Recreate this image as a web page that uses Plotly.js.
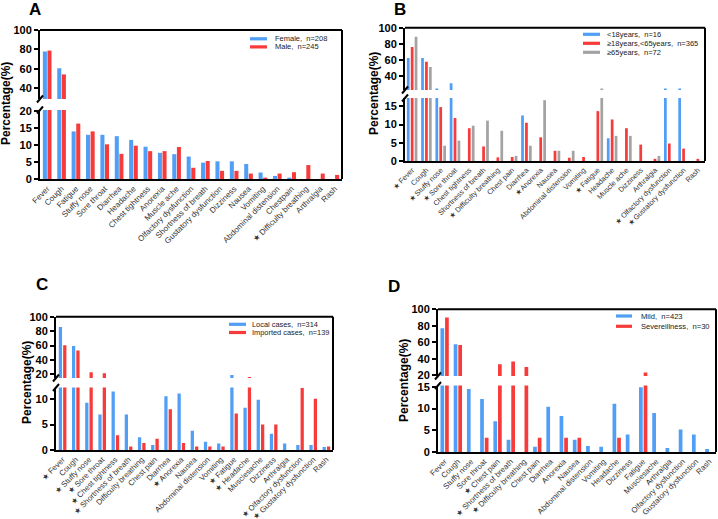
<!DOCTYPE html>
<html><head><meta charset="utf-8">
<script src="https://cdn.plot.ly/plotly-3.0.1.min.js"></script>
<style>html,body{margin:0;padding:0;background:#fff;}#chart{width:718px;height:519px;}</style>
</head><body><div id="chart"></div>
<script>
// ---------- DATA ----------
const catsA = ["Fever","Cough","Fatigue","Stuffy nose","Sore throat","Diarrhea","Headache","Chest tightness","Anorexia","Muscle ache","Olfactory dysfunction","Shortness of breath","Gustatory dysfunction","Dizziness","Nausea","Vomiting","Abdominal distension","Chestpain","★ Difficulty breathing","Arthralgia","Rash"];
const femaleA = [77.9, 60.6, 14.0, 13.0, 13.0, 12.6, 11.5, 9.5, 7.7, 7.3, 6.6, 4.8, 5.2, 5.2, 4.4, 1.9, 0.9, 0.4, 0, 0, 0];
const maleA   = [78.8, 54.3, 16.3, 14.0, 10.2, 7.4, 9.8, 8.2, 8.2, 9.4, 3.3, 5.3, 2.4, 2.4, 1.6, 0.4, 1.6, 2.0, 4.1, 1.6, 1.2];
const namesA  = ["Female,\u00a0 n=208", "Male,\u00a0 n=245"];

const catsB = ["★ Fever","Cough","★ Stuffy nose","★ Sore throat","Chest tightness","Shortness of breath","★ Difficulty breathing","Chest pain","Diarrhea","★ Anorexia","Nausea","Abdominal distension","Vomiting","★ Fatigue","Headache","Muscle ache","Dizziness","Arthralgia","★ Olfactory dysfunction","★ Gustatory dysfunction","Rash"];
const youngB = [62.5, 62.5, 25, 31.25, 0, 0, 0, 0, 12.5, 0, 0, 0, 0, 0, 6.25, 0, 0, 0, 25, 25, 0];
const adultB = [76, 58, 14.8, 11.8, 9.0, 4.0, 1.0, 1.1, 10.5, 6.5, 2.8, 0.9, 1.1, 13.7, 11.4, 9.0, 4.5, 0.6, 4.8, 3.4, 0.6];
const elderB = [88.9, 51.4, 4.2, 5.6, 9.7, 11.1, 8.3, 1.4, 4.2, 16.7, 2.8, 2.8, 0, 25, 6.9, 6.9, 0, 1.4, 0, 0, 0];
const namesB = ["<18years,\u00a0 n=16", "≥18years,<65years,\u00a0 n=365", "≥65years,\u00a0 n=72"];

const catsC = ["★ Fever","Cough","★ Stuffy nose","★ Sore throat","★ Chest tightness","★ Shortness of breath","Difficulty breathing","Chest pain","Diarrhea","★ Anorexia","Nausea","Abdominal distension","Vomiting","★ Fatigue","★ Headache","Musclesache","Dizziness","Arthralgia","★ Olfactory dysfunction","★ Gustatory dysfunction","Rash"];
const localC    = [85.7, 59.5, 9.3, 7.0, 11.5, 7.0, 2.5, 1.0, 10.6, 11.1, 3.8, 1.6, 1.3, 19, 8.3, 9.9, 3.2, 1.3, 1.0, 1.0, 0.6];
const importedC = [60.4, 53.2, 23.0, 21.6, 2.9, 0.7, 1.4, 2.2, 8.0, 1.4, 0.7, 0.7, 0.7, 7.2, 16.5, 5.0, 5.0, 0, 12.2, 10.1, 0.7];
const namesC = ["Local cases,\u00a0 n=314", "Imported cases,\u00a0 n=139"];

const catsD = ["Fever","Cough","Stuffy nose","Sore throat","★ Chest pain","★ Shortness of breath","★ Difficulty breathing","Chest pain","Diarrhea","Anorexia","Nausea","Abdominal distension","Vomiting","Headache","Dizziness","Fatigue","Musclesache","Arthralgia","Olfactory dysfunction","Gustatory dysfunction","Rash"];
const mildD   = [77, 57.6, 14.5, 12.2, 7.1, 2.8, 0, 1.2, 10.4, 8.3, 2.8, 1.4, 1.2, 11.1, 4.0, 14.9, 9.0, 0.9, 5.2, 4.0, 0.7];
const severeD = [90, 56.7, 0, 3.3, 33.3, 36.7, 30, 3.3, 0, 3.3, 3.3, 0, 0, 3.3, 0, 23.3, 0, 0, 0, 0, 0];
const namesD = ["Mild,\u00a0 n=423", "Severeillness,\u00a0 n=30"];

// ---------- STYLE / LAYOUT ----------
const W = 718, H = 519;
const BLUE = 'rgb(80,158,245)', RED = 'rgb(247,58,58)', GRAY = 'rgb(163,163,163)';
const FONT = 'Liberation Sans, Arial, sans-serif';

const panels = [
  {letter:'A', letterPos:[35,10], xs:[40,342], lo:[179,110], up:[99,30], loR:[0,20.3], upR:[29,100],
   loT:[0,5,10,15,20], upT:[40,60,80,100], gap:0.36, ggap:0.12, cats:catsA, tickSize:8,
   series:[femaleA, maleA], colors:[BLUE, RED], names:namesA,
   titlePos:[6,104], leg:{sx:[250,267], tx:274, ys:[38.8,46.9], size:7.5}},
  {letter:'B', letterPos:[400,10], xs:[405,705], lo:[161,98], up:[90,27.7], loR:[0,17.3], upR:[23,100],
   loT:[0,5,10,15], upT:[40,60,80,100], gap:0.18, ggap:0.3, cats:catsB, tickSize:7.3,
   series:[youngB, adultB, elderB], colors:[BLUE, RED, GRAY], names:namesB,
   titlePos:[374,94], leg:{sx:[583,600], tx:606, ys:[34.3,43.3,52.3], size:7.5}},
  {letter:'C', letterPos:[42,284], xs:[56,333], lo:[450,387.5], up:[378,316.7], loR:[0,12.3], upR:[15,100],
   loT:[0,5,10], upT:[20,40,60,80,100], gap:0.34, ggap:0.25, cats:catsC, tickSize:7.8,
   series:[localC, importedC], colors:[BLUE, RED], names:namesC,
   titlePos:[27,383], leg:{sx:[229,246], tx:251, ys:[324.3,332.5], size:7.4}},
  {letter:'D', letterPos:[394,286], xs:[438,716], lo:[452,385.5], up:[376,309.3], loR:[0,15.3], upR:[19.2,100],
   loT:[0,5,10,15], upT:[20,40,60,80,100], gap:0.3, ggap:0.2, cats:catsD, tickSize:7.8,
   series:[mildD, severeD], colors:[BLUE, RED], names:namesD,
   titlePos:[404,381], leg:{sx:[616,632], tx:640, ys:[316,326.3], size:7.6}}
];

const px = v => v / W;
const py = v => 1 - v / H;

const data = [];
const layout = {
  width: W, height: H, margin:{l:0,r:0,t:0,b:0},
  paper_bgcolor:'#fff', plot_bgcolor:'rgba(0,0,0,0)',
  showlegend:false, barmode:'overlay',
  font:{family:FONT, color:'#000'},
  shapes:[], annotations:[]
};

const yTickFont = {family:FONT, size:11, color:'#000', weight:'bold'};

panels.forEach((p, i) => {
  const xa = 'xaxis' + (i===0 ? '' : (i+1));
  const xid = 'x' + (i===0 ? '' : (i+1));
  const loN = 2*i + 1, upN = 2*i + 2;
  const loY = 'y' + (loN===1 ? '' : loN), upY = 'y' + upN;
  const loA = 'yaxis' + (loN===1 ? '' : loN), upA = 'yaxis' + upN;

  layout[xa] = {
    domain:[px(p.xs[0]), px(p.xs[1])], anchor: loY, type:'category',
    showline:true, linewidth:2, linecolor:'#000', ticks:'', showgrid:false, zeroline:false,
    tickangle:-45, tickfont:{family:FONT, size:p.tickSize, color:'#333'}, automargin:false,
    fixedrange:true
  };
  const yCommon = {
    anchor: xid, showline:true, linewidth:2, linecolor:'#000', ticks:'outside', ticklen:4, tickwidth:2,
    tickcolor:'#000', showgrid:false, zeroline:false, tickfont:yTickFont, tickmode:'array',
    automargin:false, fixedrange:true
  };
  layout[loA] = Object.assign({}, yCommon, {domain:[py(p.lo[0]), py(p.lo[1])], range:p.loR, tickvals:p.loT});
  layout[upA] = Object.assign({}, yCommon, {domain:[py(p.up[0]), py(p.up[1])], range:p.upR, tickvals:p.upT});

  // bars: each series drawn on lower and upper segment, grouped by explicit offset/width
  const n = p.series.length;
  const groupW = 1 - p.gap;
  const slot = groupW / n;
  const w = slot * (1 - p.ggap);
  p.series.forEach((vals, k) => {
    [loY, upY].forEach(yid => {
      data.push({
        type:'bar', x:p.cats, y:vals, xaxis:xid, yaxis:yid, name:p.names[k],
        marker:{color:p.colors[k], line:{width:0}},
        width:w, offset:-groupW/2 + k*slot + (slot - w)/2,
        hoverinfo:'x+y'
      });
    });
  });

  // frame: top + right
  layout.shapes.push({type:'line', xref:'paper', yref:'paper', x0:px(p.xs[0]), x1:px(p.xs[1]), y0:py(p.up[1]), y1:py(p.up[1]), line:{color:'#000', width:2}});
  layout.shapes.push({type:'line', xref:'paper', yref:'paper', x0:px(p.xs[1]), x1:px(p.xs[1]), y0:py(p.lo[0]), y1:py(p.up[1]), line:{color:'#000', width:2}});
  // break marks
  [p.up[0], p.lo[1]].forEach(yy => {
    layout.shapes.push({type:'line', xref:'paper', yref:'paper', xsizemode:'pixel', ysizemode:'pixel',
      xanchor:px(p.xs[0]), yanchor:py(yy), x0:-3, x1:3, y0:-3.5, y1:3.5, line:{color:'#000', width:2}});
  });

  // panel letter
  layout.annotations.push({xref:'paper', yref:'paper', x:px(p.letterPos[0]), y:py(p.letterPos[1]),
    text:'<b>'+p.letter+'</b>', showarrow:false, font:{family:FONT, size:17, color:'#000'}, xanchor:'center', yanchor:'middle'});
  // y title
  layout.annotations.push({xref:'paper', yref:'paper', x:px(p.titlePos[0]), y:py(p.titlePos[1]),
    text:'<b>Percentage(%)</b>', textangle:-90, showarrow:false, font:{family:FONT, size:12, color:'#000'}, xanchor:'center', yanchor:'middle'});
  // legend
  p.names.forEach((nm, k) => {
    const yy = p.leg.ys[k];
    layout.shapes.push({type:'rect', xref:'paper', yref:'paper', x0:px(p.leg.sx[0]), x1:px(p.leg.sx[1]),
      y0:py(yy+1.6), y1:py(yy-1.6), fillcolor:p.colors[k], line:{width:0}});
    layout.annotations.push({xref:'paper', yref:'paper', x:px(p.leg.tx), y:py(yy), text:nm, showarrow:false,
      xanchor:'left', yanchor:'middle', borderpad:0, font:{family:FONT, size:p.leg.size, color:'#222'}});
  });
});

Plotly.newPlot('chart', data, layout, {staticPlot:true, displayModeBar:false});
</script>
</body></html>
